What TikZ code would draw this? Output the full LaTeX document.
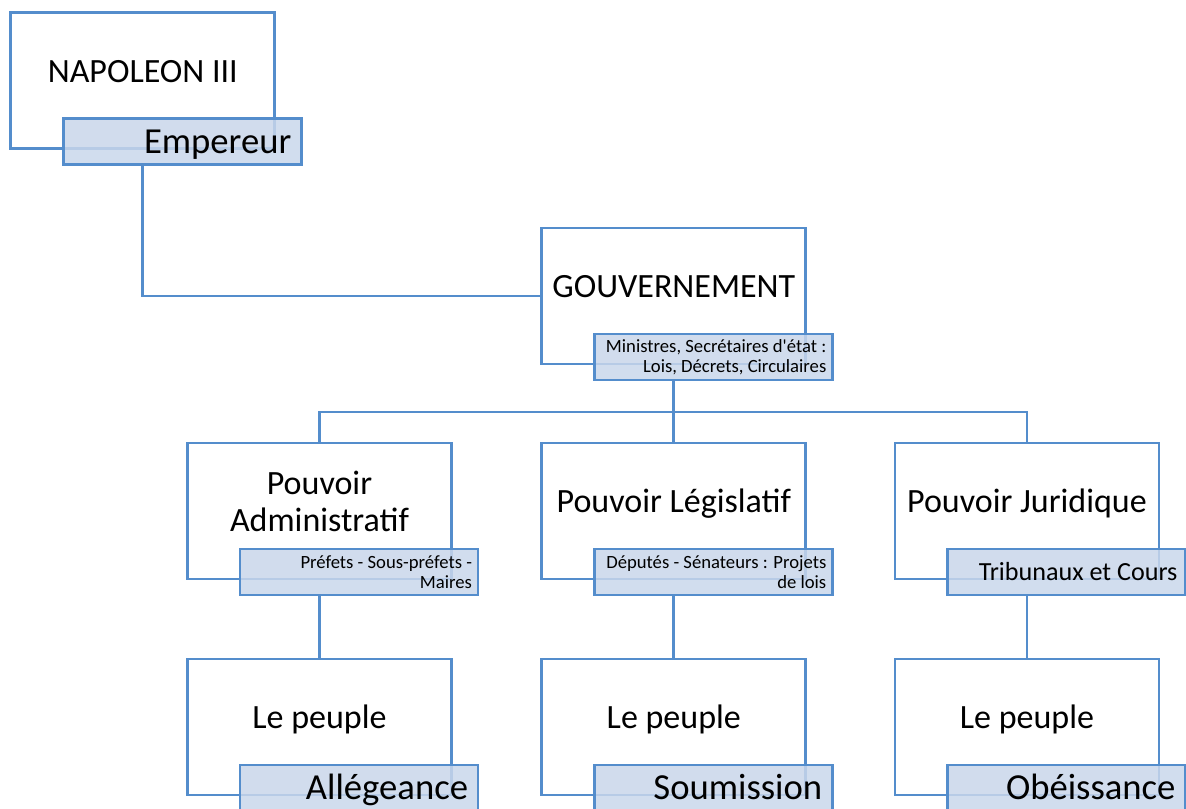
\documentclass[tikz,border=0pt]{standalone}
\usepackage{fontspec}
\setmainfont{Carlito}
\definecolor{smartblue}{RGB}{84,141,204}
\definecolor{smartfill}{RGB}{201,215,235}
\tikzset{
  unitbox/.style={draw=smartblue, line width=2pt, fill=white, minimum width=198pt, minimum height=102pt,
    inner sep=0pt, align=center, font=\fontsize{25.5}{27.75}\selectfont, text height=16.1pt, text depth=13.5pt},
  tag/.style={draw=smartblue, line width=2pt, fill=smartfill, fill opacity=0.85, text opacity=1,
    minimum width=178.5pt, minimum height=34.5pt, inner ysep=0pt, align=flush right},
  tagbig/.style={tag, inner xsep=7.5pt, text width=163.5pt, font=\fontsize{#1}{#1}\selectfont,
    text height=#1*0.632pt, text depth=0pt},
  tagsmall/.style={tag, inner xsep=4.5pt, text width=169.5pt, font=\fontsize{14}{15}\selectfont},
  link/.style={draw=smartblue, line width=2pt}
}
\begin{document}
\begin{tikzpicture}[x=0.75pt,y=-0.75pt]
\useasboundingbox (0,0) rectangle (1186,809);
% empereur
\node[unitbox] (nap) at (142.8,80.5) {NAPOLEON III};
\node[tagbig=27.5] (napTag) at (182.3,141.5) {Empereur};
% gouvernement
\node[unitbox] (gov) at (673.8,296) {GOUVERNEMENT};
\node[tagsmall] (govTag) at (713.3,357) {Ministres, Secrétaires d\textquotesingle état :\\Lois, Décrets, Circulaires};
\coordinate (split) at (673.8,412);
% les trois pouvoirs
\node[unitbox, text height=, text depth=15pt] (adm) at (319.5,511) {Pouvoir\\Administratif};
\node[tagsmall] (admTag) at (359,572) {Préfets - Sous-préfets -\\Maires};
\node[unitbox] (leg) at (673.8,511) {Pouvoir Législatif};
\node[tagsmall] (legTag) at (713.3,572) {Députés - Sénateurs : Projets\\de lois};
\node[unitbox] (jur) at (1027,511) {Pouvoir Juridique};
\node[tagbig=19.6, inner xsep=6pt, text width=166.5pt] (jurTag) at (1066.5,572) {Tribunaux et Cours};
% le peuple
\node[unitbox] (peoA) at (319.5,727) {Le peuple};
\node[tagbig=27.5] (peoATag) at (359,788) {Allégeance};
\node[unitbox] (peoL) at (673.8,727) {Le peuple};
\node[tagbig=27.5] (peoLTag) at (713.3,788) {Soumission};
\node[unitbox] (peoJ) at (1027,727) {Le peuple};
\node[tagbig=27.5] (peoJTag) at (1066.5,788) {Obéissance};
% liens
\draw[link] (napTag.south -| nap) |- (gov.west);
\draw[link] (govTag.south -| gov) -- (split);
\draw[link] (adm.north) |- (split) -| (jur.north);
\draw[link] (split) -- (leg.north);
\draw[link] (admTag.south -| adm) -- (peoA.north);
\draw[link] (legTag.south -| leg) -- (peoL.north);
\draw[link] (jurTag.south -| jur) -- (peoJ.north);
\end{tikzpicture}
\end{document}
